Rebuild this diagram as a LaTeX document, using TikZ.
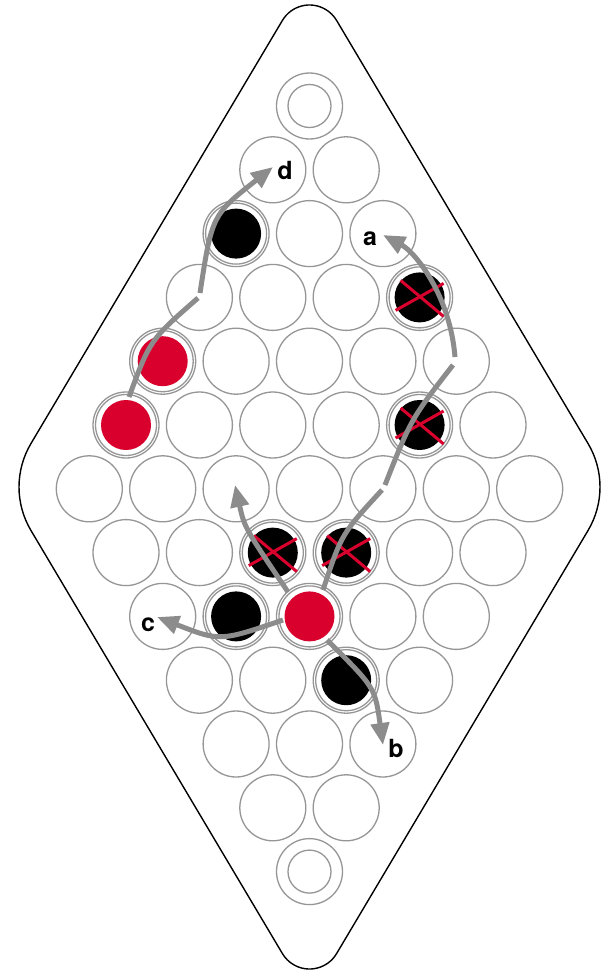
\documentclass[tikz,border=0pt]{standalone}
\usepackage{fontspec}
\newfontfamily\labfont{TeX Gyre Heros}
\usetikzlibrary{arrows.meta,calc}
\definecolor{pinred}{RGB}{217,0,45}
\definecolor{ringgray}{RGB}{150,150,150}
\definecolor{arrowgray}{RGB}{140,140,140}
\begin{document}
\begin{tikzpicture}[x=1pt,y=1pt,
  board/.style={draw=black,line width=1.4pt,fill=white},
  hole/.style={circle,draw=ringgray,line width=1.3pt,fill=white,minimum size=66pt,inner sep=0pt},
  ringline/.style={draw=ringgray,line width=1.3pt},
  occring/.style={circle,draw=ringgray,line width=1.3pt,minimum size=61pt,inner sep=0pt},
  blackpiece/.style={circle,fill=black,minimum size=50pt,inner sep=0pt},
  redpiece/.style={circle,fill=pinred,minimum size=50pt,inner sep=0pt},
  xmark/.style={draw=pinred,line width=3pt},
  mv/.style={draw=arrowgray,line width=5pt},
  mvhead/.style={mv,-{Triangle[length=22pt,width=18pt]}},
  lab/.style={font=\labfont\bfseries\fontsize{25}{25}\selectfont,inner sep=0pt}
]
\useasboundingbox[fill=white] (0,0) rectangle (609,-974);

% board outline
\draw[board] (309.5,-36.5) ++(149.2:31.5) arc[start angle=149.2,end angle=30.8,radius=31.5]
  -- ($(515,-487)+(30.8:85)$) arc[start angle=30.8,end angle=-30.8,radius=85]
  -- ($(309.5,-937.5)+(-30.8:31.5)$) arc[start angle=-30.8,end angle=-149.2,radius=31.5]
  -- ($(104,-487)+(210.8:85)$) arc[start angle=210.8,end angle=149.2,radius=85]
  -- cycle;

% holes
\foreach \k in {0,...,12}{
  \pgfmathtruncatemacro{\n}{min(\k,12-\k)+1}
  \foreach \i in {1,...,\n}{
    \pgfmathsetmacro{\xx}{309.5+73.4*(\i-(\n+1)/2)}
    \pgfmathsetmacro{\yy}{-(106+63.8*\k)}
    \node[hole] (h\k-\i) at (\xx,\yy) {};
  }
}
\draw[ringline] (h0-1.center) circle[radius=21.5];
\draw[ringline] (h12-1.center) circle[radius=21.5];

% pieces
\foreach \h in {h2-1,h3-4,h5-5,h7-3,h7-4,h8-2,h9-3}{
  \node[occring] at (\h.center) {};
  \node[blackpiece] (p\h) at (\h.center) {};
}
\foreach \h in {h4-1,h5-1,h8-3}{
  \node[occring] at (\h.center) {};
  \node[redpiece] (p\h) at (\h.center) {};
}

% crosses on captured pieces
\foreach \h in {h3-4,h5-5,h7-3,h7-4}{
  \draw[xmark] ([shift={(-24,-13)}]\h.center) -- ([shift={(24,14)}]\h.center);
  \draw[xmark] ([shift={(-19,17)}]\h.center) -- ([shift={(24,-19)}]\h.center);
}

% move arrows
\coordinate (d1s) at (129,-397); \coordinate (d1e) at (198,-298);
\coordinate (d2s) at (200,-293); \coordinate (d2e) at (273,-167);
\coordinate (a1s) at (323,-590); \coordinate (a1e) at (382,-490);
\coordinate (a2s) at (385,-485); \coordinate (a2e) at (453,-365);
\coordinate (a3s) at (455,-357); \coordinate (a3e) at (383,-235);
\coordinate (us) at (288,-592); \coordinate (ue) at (235,-485);
\coordinate (cs) at (283,-620); \coordinate (ce) at (157,-617);
\coordinate (bs) at (327,-640); \coordinate (be) at (383,-745);

\draw[mv] (d1s) .. controls (150,-340) .. (d1e);
\draw[mvhead] (d2s) .. controls (212,-215) .. (d2e);
\draw[mv] (a1s) .. controls (341.5,-534) .. (a1e);
\draw[mv] (a2s) .. controls (411,-419) .. (a2e);
\draw[mvhead] (a3s) .. controls (450,-295) and (415,-252) .. (a3e);
\draw[mvhead] (us) .. controls (244.5,-527.5) .. (ue);
\draw[mvhead] (cs) .. controls (220,-641.5) .. (ce);
\draw[mvhead] (bs) .. controls (375,-687.5) .. (be);

% labels
\node[lab] (ld) at (285,-170) {d};
\node[lab] (la) at (370,-239) {a};
\node[lab] (lc) at (148,-625) {c};
\node[lab] (lb) at (396,-748) {b};
\end{tikzpicture}
\end{document}
